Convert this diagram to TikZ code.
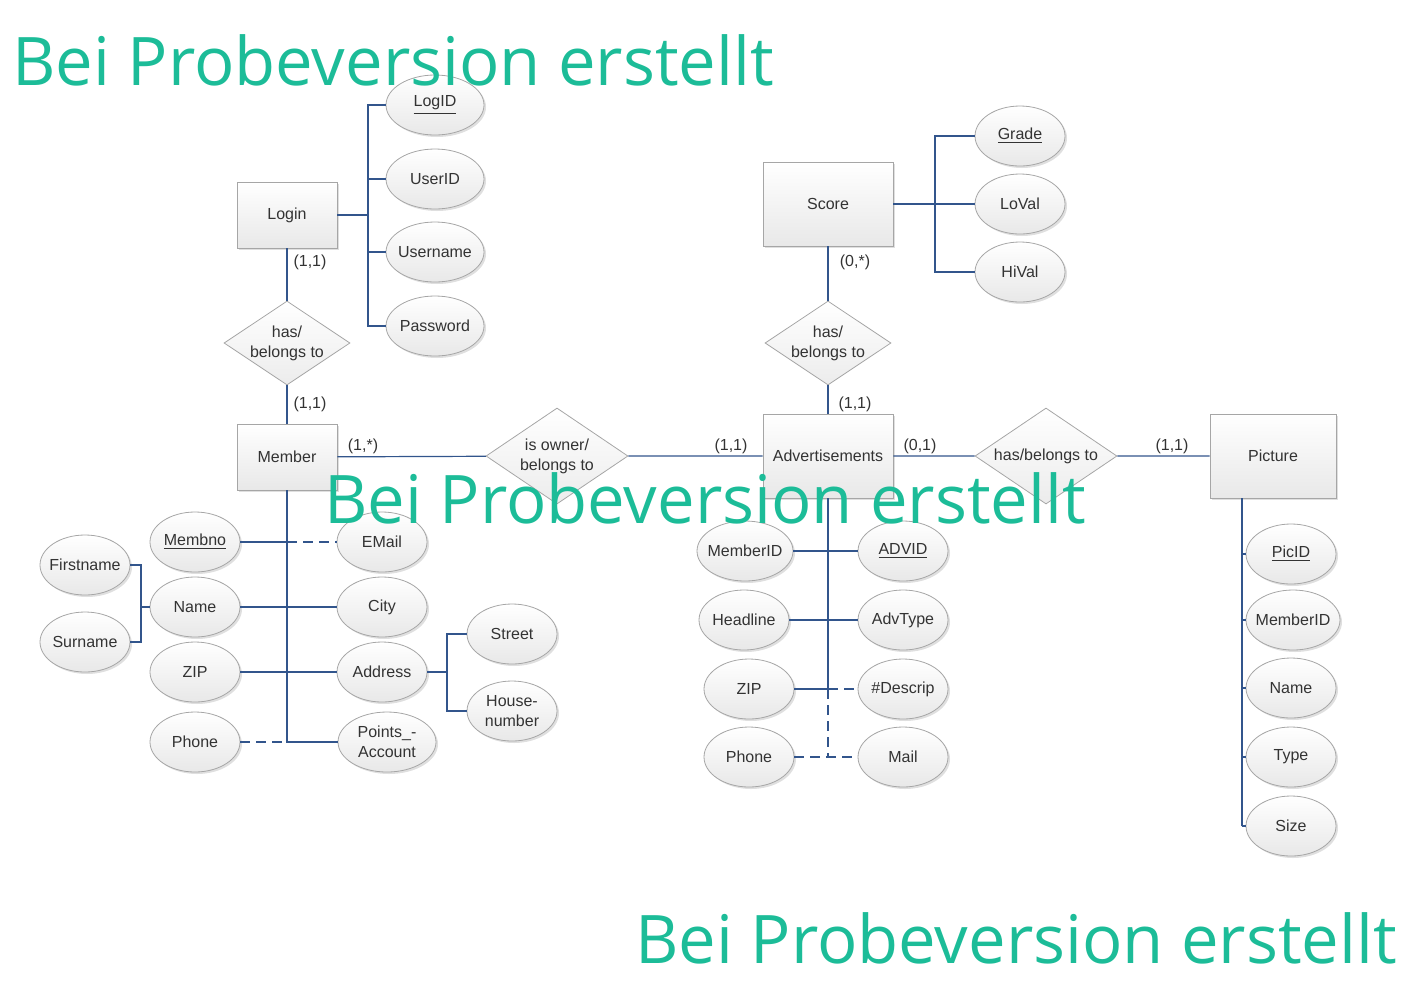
\documentclass[tikz,border=0pt]{standalone}
\usepackage{fontspec}
\setmainfont{Liberation Sans}
\newfontfamily\wmfont{Open Sans}
\usetikzlibrary{shapes.geometric,shadows}

\definecolor{linkblue}{RGB}{50,85,140}
\definecolor{wmgreen}{RGB}{28,188,152}
\definecolor{txtgray}{RGB}{51,51,51}

\tikzset{
  entity/.style={draw=gray!70, top color=white, bottom color=gray!18,
    minimum width=50pt, minimum height=33pt, inner sep=0pt, text=txtgray,
    font=\fontsize{8}{10}\selectfont,
    drop shadow={shadow xshift=1pt, shadow yshift=-1pt, opacity=0.25}},
  attr/.style={ellipse, draw=gray!70, top color=white, bottom color=gray!18,
    minimum width=45pt, minimum height=30pt, inner xsep=-3pt, inner ysep=0pt,
    align=center, text=txtgray, font=\fontsize{8}{10}\selectfont,
    drop shadow={shadow xshift=1pt, shadow yshift=-1pt, opacity=0.25}},
  rel/.style={diamond, draw=gray!70, top color=white, bottom color=gray!15,
    aspect=1.5, minimum width=63pt, minimum height=42pt, inner sep=-3pt,
    align=center, text=txtgray, font=\fontsize{8}{10}\selectfont},
  card/.style={text=txtgray, inner sep=1pt, font=\fontsize{8}{10}\selectfont},
  link/.style={draw=linkblue, line width=0.6pt},
  optlink/.style={link, dash pattern=on 5pt off 3pt},
  wm/.style={text=wmgreen, inner sep=0pt, anchor=base west,
    font=\wmfont\fontsize{33.5}{40}\selectfont}
}

\begin{document}
\begin{tikzpicture}[x=0.5pt,y=-0.5pt]
  \useasboundingbox (0,0) rectangle (1404,993);

  % entities
  \node[entity] (login) at (287,215) {Login};
  \node[entity] (member) at (287,457) {Member};
  \node[entity, minimum width=65pt, minimum height=42pt] (score) at (828,204) {Score};
  \node[entity, minimum width=65pt, minimum height=42pt] (adv) at (828,456) {Advertisements};
  \node[entity, minimum width=63pt, minimum height=42pt] (pic) at (1273,456) {Picture};

  % relationships
  \node[rel] (hasLogin) at (287,343) {has/\\belongs to};
  \node[rel] (hasScore) at (828,343) {has/\\belongs to};
  \node[rel, minimum width=71pt, minimum height=48pt] (owner) at (557,456) {is owner/\\belongs to};
  \node[rel, minimum width=71pt, minimum height=48pt] (hasPic) at (1046,456) {has/belongs to};

  \draw[link] (login) -- (hasLogin) -- (member);
  \draw[link] (score) -- (hasScore) -- (adv);
  \draw[link] (member) -- (owner) -- (adv) -- (hasPic) -- (pic);

  % cardinalities
  \node[card] (cLoginA) at (310,262) {(1,1)};
  \node[card] (cLoginB) at (310,404) {(1,1)};
  \node[card] (cOwnerA) at (363,446) {(1,*)};
  \node[card] (cOwnerB) at (731,446) {(1,1)};
  \node[card] (cScoreA) at (855,262) {(0,*)};
  \node[card] (cScoreB) at (855,404) {(1,1)};
  \node[card] (cPicA) at (920,446) {(0,1)};
  \node[card] (cPicB) at (1172,446) {(1,1)};

  % Login attributes
  \node[attr, minimum width=49pt] (logid) at (435,105) {\underline{LogID}};
  \node[attr, minimum width=49pt] (userid) at (435,179) {UserID};
  \node[attr, minimum width=49pt] (username) at (435,252) {Username};
  \node[attr, minimum width=49pt] (password) at (435,326) {Password};
  \coordinate (loginfork) at (368,215);
  \draw[link] (login) -- (loginfork);
  \foreach \a in {logid,userid,username,password}
    \draw[link] (loginfork) |- (\a);

  % Score attributes
  \node[attr] (grade) at (1020,136) {\underline{Grade}};
  \node[attr] (loval) at (1020,204) {LoVal};
  \node[attr] (hival) at (1020,272) {HiVal};
  \coordinate (scorefork) at (935,204);
  \draw[link] (score) -- (loval);
  \foreach \a in {grade,hival}
    \draw[link] (scorefork) |- (\a);

  % Member attributes
  \node[attr] (membno) at (195,542) {\underline{Membno}};
  \node[attr] (mname) at (195,607) {Name};
  \node[attr] (mzip) at (195,672) {ZIP};
  \node[attr] (mphone) at (195,742) {Phone};
  \node[attr] (email) at (382,542) {EMail};
  \node[attr] (city) at (382,607) {City};
  \node[attr] (address) at (382,672) {Address};
  \node[attr, minimum width=49pt] (points) at (387,742) {Points\_-\\Account};
  \node[attr] (first) at (85,565) {Firstname};
  \node[attr] (sur) at (85,642) {Surname};
  \node[attr] (street) at (512,634) {Street};
  \node[attr] (house) at (512,711) {House-\\number};

  \draw[link] (member) |- (points);
  \coordinate (mjoinA) at (287,542);
  \coordinate (mjoinB) at (287,742);
  \draw[link] (membno) -- (mjoinA);
  \draw[optlink] (mjoinA) -- (email);
  \draw[link] (mname) -- (city);
  \draw[link] (mzip) -- (address);
  \draw[optlink] (mphone) -- (mjoinB);
  \coordinate (namefork) at (141,607);
  \draw[link] (mname) -- (namefork);
  \foreach \a in {first,sur}
    \draw[link] (namefork) |- (\a);
  \coordinate (addrfork) at (447,672);
  \draw[link] (address) -- (addrfork);
  \foreach \a in {street,house}
    \draw[link] (addrfork) |- (\a);

  % Advertisements attributes
  \node[attr, minimum width=48pt] (amember) at (745,551) {MemberID};
  \node[attr] (headline) at (744,620) {Headline};
  \node[attr] (azip) at (749,689) {ZIP};
  \node[attr] (aphone) at (749,757) {Phone};
  \node[attr] (advid) at (903,551) {\underline{ADVID}};
  \node[attr] (advtype) at (903,620) {AdvType};
  \node[attr] (descrip) at (903,689) {\#Descrip};
  \node[attr] (mail) at (903,757) {Mail};
  \coordinate (atrunk) at (828,689);
  \coordinate (aend) at (828,757);
  \draw[link] (adv) -- (atrunk);
  \draw[optlink] (atrunk) -- (aend);
  \draw[link] (amember) -- (advid);
  \draw[link] (headline) -- (advtype);
  \draw[link] (azip) -- (atrunk);
  \draw[optlink] (atrunk) -- (descrip);
  \draw[optlink] (aphone) -- (mail);

  % Picture attributes
  \node[attr] (picid) at (1291,554) {\underline{PicID}};
  \node[attr, minimum width=47pt] (pmember) at (1293,620) {MemberID};
  \node[attr] (pname) at (1291,688) {Name};
  \node[attr] (ptype) at (1291,757) {Type};
  \node[attr] (psize) at (1291,826) {Size};
  \coordinate (pictrunk) at (1242,826);
  \draw[link] (pic.south -| pictrunk) -- (pictrunk);
  \foreach \a in {picid,pmember,pname,ptype,psize}
    \draw[link] (pictrunk) |- (\a);

  % watermarks
  \node[wm] (wmTop) at (12,85) {Bei Probeversion erstellt};
  \node[wm] (wmMid) at (324,523) {Bei Probeversion erstellt};
  \node[wm] (wmBot) at (635,963) {Bei Probeversion erstellt};
\end{tikzpicture}
\end{document}
